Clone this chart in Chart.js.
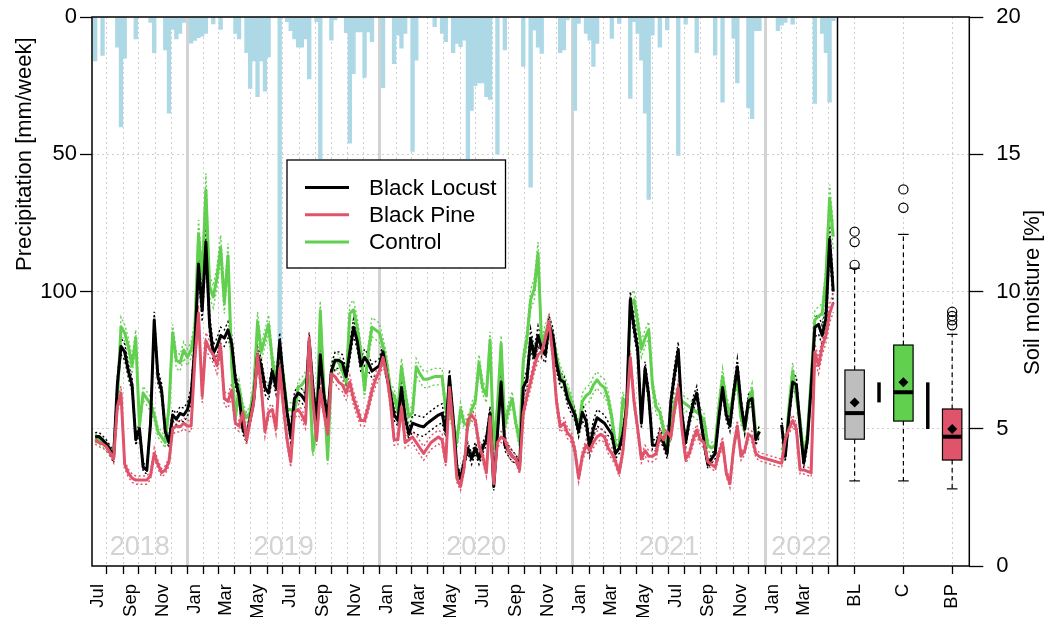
<!DOCTYPE html>
<html>
<head>
<meta charset="utf-8">
<title>Soil moisture and precipitation</title>
<script src="https://cdn.jsdelivr.net/npm/chart.js@4.4.1/dist/chart.umd.min.js"></script>
<style>
  html, body { margin: 0; padding: 0; background: #ffffff; }
  #wrap { width: 1046px; height: 617px; }
</style>
</head>
<body>
<div id="wrap"><canvas id="chart" width="1046" height="617"></canvas></div>
<script>
// ---------- data ----------
// weekly precipitation [mm/week], one value per week starting at firstWeek
const firstWeek = [2018, 7, 10];
const precip = [
  16,0,14,0,0,0,11,40,15,0,
  0,8,0,0,0,2,13,0,0,12,
  35,4.5,8,6,2,0,9.5,8.5,7.5,7,
  6,0,2.5,0,4.5,0,0,0,6,8,
  0,13,26,16,29,16,27,14.5,0,0,
  118,0,1.7,5,8,11,11,8,22.6,0,
  1.7,51.6,0,0,8.4,1.1,0,0,5.7,46,
  20.6,5.4,5.4,22,5.4,9,0,0,25.7,0,
  0,17,6.6,11.4,6,0,49,15.7,0,0,
  0,0,3.5,0,6,9,0,13,9.6,10.8,
  8.4,51.6,34,25,24,24,29,30,0,50,
  0,12,0,0,0,0,18,0,62,4.7,
  11,13.3,0,0,0,0,13,12,1.1,0,
  34,2.3,0,6,8.4,18,9.6,0,0,0,
  7.8,0,2.3,0,0,29.7,1.7,6,15.7,35,
  66.5,6.6,0,11,0,4.7,0,0,50.4,0,
  2.6,0,0,13,0,0,0,0,13.9,0,
  31,0,0,7.7,24,0,0,33,37,5,
  5,0,0,0,0,5,3,2,0,2.6,
  0,0,0,0,0,31.5,0,6,13,31,
  1.3
];

// weekly mean soil moisture [%]
const locust = [
  4.71,4.72,4.6,4.45,4.25,3.95,6.6,8.0,7.8,7.1,
  6.6,4.6,5.0,3.6,3.5,5.2,8.96,6.9,6.4,4.9,
  4.5,5.5,5.35,5.56,5.5,5.7,6.2,8.0,11.0,9.3,
  11.8,8.8,7.75,8.0,8.4,8.3,8.6,8.1,6.8,6.2,
  5.0,4.7,5.4,6.1,7.7,7.3,6.5,6.3,7.1,6.5,
  8.2,6.8,5.6,4.7,6.1,6.3,6.2,6.0,8.2,6.5,
  5.3,7.7,6.2,5.4,7.1,7.5,7.5,7.4,6.9,7.8,
  8.7,8.2,7.3,7.6,7.4,7.1,7.2,7.3,7.8,7.0,
  6.3,5.5,5.3,6.5,5.4,4.8,5.2,5.15,5.1,5.07,
  5.2,5.3,5.4,5.5,5.56,4.9,6.9,5.4,3.6,3.2,
  3.8,4.3,3.9,4.3,3.9,4.3,4.6,5.56,2.9,4.8,
  6.7,4.4,4.2,4.0,3.9,3.65,6.5,6.8,8.3,7.6,
  8.4,7.9,7.7,8.8,8.4,7.4,6.78,6.7,6.1,5.8,
  5.5,4.9,5.6,5.3,4.3,5.0,5.4,5.3,5.2,5.0,
  4.8,4.1,4.3,4.8,5.8,9.7,8.7,7.9,5.2,7.2,
  6.2,4.4,4.4,4.8,4.5,4.1,6.0,7.0,7.87,5.5,
  4.5,5.3,5.9,6.3,5.4,4.5,3.7,3.9,4.1,5.4,
  6.5,5.5,5.1,6.3,7.26,5.9,5.0,6.0,6.1,4.6,
  4.9,null,null,null,null,null,5.14,4.0,5.5,6.7,
  6.6,5.1,3.75,4.6,6.5,8.7,8.8,8.4,9.0,11.9,
  10.0
];
const pine = [
  4.59,4.5,4.45,4.35,4.15,3.9,5.8,6.3,3.7,3.38,
  3.2,3.13,3.13,3.13,3.13,3.3,4.1,3.7,3.4,3.5,
  3.8,5.0,5.1,5.07,5.2,5.1,5.1,7.5,9.2,6.2,
  8.2,7.9,7.7,7.3,8.0,6.1,6.0,6.4,5.2,5.1,
  5.6,4.6,5.3,6.0,7.7,6.5,4.9,5.6,5.7,5.0,
  7.2,5.8,4.6,3.8,5.6,5.7,5.5,5.2,8.3,6.0,
  4.6,6.4,5.6,4.8,7.0,6.9,6.7,6.6,6.3,6.7,
  6.1,5.7,5.3,5.3,5.8,6.4,6.8,7.1,7.6,7.0,
  6.0,4.6,4.6,5.8,4.5,4.6,4.7,4.5,4.3,4.1,
  4.3,4.5,4.6,4.7,4.6,3.8,6.5,5.0,3.2,2.9,
  3.6,5.3,5.5,5.3,4.4,4.0,3.4,5.44,3.0,4.5,
  4.7,4.6,4.2,4.0,3.9,3.5,5.56,6.2,6.7,7.3,
  7.7,7.8,8.3,8.9,7.7,6.0,5.07,5.2,4.84,4.7,
  4.2,3.2,4.0,4.4,4.2,4.5,4.71,4.8,4.7,4.3,
  4.1,3.8,3.4,4.2,5.7,7.6,6.0,5.0,3.9,4.2,
  4.0,4.0,4.1,4.8,4.6,4.9,4.7,5.7,6.5,5.0,
  3.9,4.1,4.6,4.95,4.6,4.5,3.8,3.7,3.6,4.1,
  4.5,3.4,3.0,4.3,5.1,4.0,4.2,4.8,4.7,4.1,
  3.98,null,null,null,null,null,3.74,4.6,5.0,5.3,
  5.0,3.5,3.5,3.45,3.4,7.8,7.3,8.0,8.4,9.2,
  9.6
];
const control = [
  4.66,4.6,4.5,4.35,4.2,4.1,6.0,8.72,8.49,8.0,
  7.3,8.3,5.1,6.3,6.1,5.9,5.5,4.9,4.7,4.5,
  5.8,8.5,7.5,7.4,7.87,7.6,7.87,8.6,12.1,10.5,
  13.7,10.2,9.8,10.5,11.6,9.6,11.3,7.3,5.4,6.5,
  5.7,5.4,5.6,6.5,8.9,7.8,8.3,8.8,7.5,6.8,
  7.0,6.9,5.7,5.7,5.6,6.5,6.6,6.8,6.9,4.2,
  5.0,9.3,6.4,3.9,7.0,7.5,7.4,7.1,6.7,9.2,
  9.33,8.7,7.8,6.4,7.8,8.7,8.6,8.5,8.0,7.4,
  6.4,6.2,5.6,7.26,6.3,5.44,5.6,7.26,7.0,6.8,
  6.8,6.85,6.9,6.9,6.9,5.7,5.6,5.2,4.5,5.7,
  5.2,5.1,5.7,6.0,7.4,6.5,6.2,8.23,4.3,5.8,
  8.1,5.1,5.7,6.1,5.2,4.5,7.5,8.3,9.7,10.1,
  11.4,8.0,8.5,8.8,8.2,7.6,7.0,6.7,6.4,6.0,
  5.5,5.0,6.0,6.2,6.3,6.6,6.78,6.6,6.5,6.1,
  5.4,4.4,4.4,6.1,5.5,9.5,9.7,8.9,7.9,8.3,
  8.6,6.6,5.8,5.6,5.0,4.2,5.0,6.0,6.3,6.0,
  5.9,5.8,5.7,5.6,5.5,5.3,4.4,4.3,4.4,5.8,
  6.9,6.0,5.5,6.3,6.8,5.4,5.0,5.9,6.4,4.8,
  4.9,null,null,null,null,null,4.3,4.1,5.8,7.1,
  6.2,5.3,4.0,4.8,6.8,8.96,9.1,9.2,10.5,13.4,
  12.0
];

// half-width of the confidence band around each weekly mean
const locustCI = [
  0.15,0.15,0.15,0.15,0.15,0.2,0.3,0.3,0.3,0.25,
  0.25,0.2,0.2,0.15,0.15,0.2,0.3,0.25,0.25,0.2,
  0.2,0.2,0.2,0.25,0.25,0.25,0.3,0.4,0.5,0.4,
  0.5,0.4,0.3,0.3,0.3,0.3,0.3,0.3,0.25,0.25,
  0.2,0.2,0.2,0.25,0.3,0.25,0.25,0.25,0.25,0.25,
  0.3,0.25,0.2,0.2,0.25,0.25,0.25,0.25,0.3,0.25,
  0.2,0.3,0.25,0.2,0.25,0.3,0.3,0.3,0.25,0.3,
  0.3,0.3,0.25,0.3,0.3,0.25,0.25,0.25,0.3,0.25,
  0.25,0.2,0.2,0.25,0.2,0.2,0.3,0.35,0.35,0.35,
  0.35,0.35,0.35,0.35,0.35,0.2,0.25,0.2,0.15,0.15,
  0.2,0.2,0.2,0.2,0.2,0.2,0.2,0.25,0.15,0.2,
  0.3,0.2,0.2,0.2,0.15,0.15,0.3,0.3,0.35,0.3,
  0.35,0.3,0.3,0.3,0.3,0.3,0.25,0.25,0.25,0.25,
  0.2,0.2,0.3,0.3,0.3,0.3,0.3,0.3,0.3,0.25,
  0.2,0.2,0.2,0.2,0.25,0.3,0.3,0.3,0.2,0.25,
  0.25,0.2,0.2,0.2,0.2,0.2,0.25,0.3,0.3,0.2,
  0.2,0.2,0.25,0.25,0.2,0.2,0.15,0.15,0.2,0.2,
  0.25,0.2,0.2,0.25,0.3,0.25,0.2,0.25,0.25,0.2,
  0.2,0.2,0.2,0.2,0.2,0.2,0.25,0.2,0.25,0.3,
  0.3,0.2,0.2,0.25,0.3,0.35,0.35,0.35,0.4,0.5,
  0.45
];
const pineCI = [
  0.15,0.15,0.15,0.15,0.15,0.15,0.2,0.25,0.15,0.15,
  0.15,0.15,0.15,0.15,0.15,0.15,0.2,0.15,0.15,0.15,
  0.15,0.2,0.2,0.2,0.2,0.2,0.2,0.25,0.3,0.25,
  0.3,0.3,0.3,0.3,0.3,0.25,0.25,0.25,0.2,0.2,
  0.2,0.2,0.2,0.2,0.25,0.25,0.2,0.2,0.2,0.2,
  0.25,0.2,0.2,0.2,0.2,0.2,0.2,0.2,0.25,0.2,
  0.2,0.25,0.2,0.2,0.25,0.25,0.25,0.25,0.25,0.25,
  0.25,0.25,0.2,0.2,0.2,0.25,0.25,0.25,0.3,0.25,
  0.25,0.2,0.2,0.2,0.2,0.2,0.2,0.25,0.25,0.25,
  0.25,0.25,0.25,0.25,0.25,0.2,0.2,0.2,0.15,0.15,
  0.2,0.2,0.2,0.2,0.2,0.2,0.15,0.2,0.15,0.2,
  0.2,0.2,0.2,0.2,0.15,0.15,0.2,0.25,0.25,0.25,
  0.25,0.25,0.25,0.3,0.25,0.25,0.2,0.2,0.2,0.2,
  0.2,0.15,0.2,0.2,0.2,0.2,0.2,0.2,0.2,0.2,
  0.2,0.15,0.15,0.2,0.2,0.25,0.2,0.2,0.15,0.2,
  0.2,0.2,0.2,0.2,0.2,0.2,0.2,0.2,0.25,0.2,
  0.15,0.15,0.2,0.2,0.2,0.2,0.15,0.15,0.15,0.15,
  0.2,0.15,0.15,0.2,0.2,0.15,0.15,0.2,0.2,0.15,
  0.15,0.15,0.15,0.15,0.15,0.15,0.15,0.2,0.2,0.2,
  0.2,0.15,0.15,0.15,0.15,0.3,0.3,0.3,0.3,0.35,
  0.35
];
const controlCI = [
  0.15,0.15,0.15,0.15,0.15,0.2,0.3,0.35,0.3,0.3,
  0.3,0.3,0.2,0.25,0.25,0.25,0.2,0.2,0.2,0.2,
  0.25,0.3,0.3,0.3,0.3,0.3,0.3,0.35,0.5,0.4,
  0.6,0.4,0.4,0.4,0.45,0.4,0.45,0.3,0.25,0.25,
  0.25,0.2,0.25,0.25,0.35,0.3,0.3,0.35,0.3,0.3,
  0.3,0.3,0.25,0.25,0.25,0.25,0.25,0.3,0.3,0.2,
  0.2,0.35,0.3,0.2,0.3,0.3,0.3,0.3,0.3,0.35,
  0.35,0.35,0.3,0.3,0.3,0.35,0.35,0.35,0.3,0.3,
  0.25,0.25,0.25,0.3,0.25,0.25,0.25,0.3,0.3,0.3,
  0.3,0.3,0.3,0.3,0.3,0.25,0.25,0.2,0.2,0.25,
  0.2,0.2,0.25,0.25,0.3,0.25,0.25,0.3,0.2,0.25,
  0.3,0.25,0.25,0.25,0.2,0.2,0.3,0.3,0.35,0.4,
  0.4,0.3,0.3,0.35,0.3,0.3,0.3,0.3,0.25,0.25,
  0.25,0.2,0.3,0.3,0.3,0.3,0.3,0.3,0.3,0.25,
  0.25,0.2,0.2,0.25,0.25,0.35,0.35,0.35,0.3,0.3,
  0.3,0.25,0.25,0.25,0.2,0.2,0.25,0.3,0.3,0.25,
  0.25,0.25,0.25,0.25,0.25,0.25,0.2,0.2,0.2,0.25,
  0.3,0.25,0.25,0.25,0.3,0.25,0.2,0.25,0.25,0.2,
  0.2,0.2,0.2,0.2,0.2,0.2,0.2,0.2,0.25,0.3,
  0.25,0.2,0.2,0.2,0.3,0.35,0.35,0.35,0.4,0.5,
  0.45
];

// summary statistics of soil moisture per stand [%]
const groupLabels = ['BL', 'C', 'BP'];
const boxLow      = [3.10, 3.10, 2.81];
const boxQ1       = [4.62, 5.28, 3.86];
const boxMedian   = [5.57, 6.33, 4.71];
const boxQ3       = [7.14, 8.05, 5.72];
const boxHigh     = [10.85, 12.08, 8.44];
const boxMean     = [5.96, 6.69, 4.99];
const boxOutliers = [[10.97, 11.8, 12.18], [13.05, 13.72], [8.77, 8.95, 9.11, 9.26]];

// tick labels
const monthLabels = ['Jul','Sep','Nov','Jan','Mar','May','Jul','Sep','Nov','Jan','Mar','May',
                     'Jul','Sep','Nov','Jan','Mar','May','Jul','Sep','Nov','Jan','Mar'];
const precipTicks = [0, 50, 100];
const moistureTicks = [0, 5, 10, 15, 20];
const yearLabels = [2018, 2019, 2020, 2021, 2022];
const seriesNames = ['Black Locust', 'Black Pine', 'Control'];

// ---------- helpers / layout ----------
const DAY = 864e5;
const dayOf = (y, m, d) => Date.UTC(y, m - 1, d) / DAY;

const X_MIN = dayOf(2018, 7, 4);
const X_SEP = dayOf(2022, 5, 18);       // end of the time panel
const PANEL_DAYS = 250;                 // width of the box-plot panel in axis units
const X_MAX = X_SEP + PANEL_DAYS;
const groupPos = [0.13, 0.5, 0.87].map(f => X_SEP + f * PANEL_DAYS);

const weeks = precip.map((_, i) => dayOf(firstWeek[0], firstWeek[1], firstWeek[2]) + 7 * i);

const COL_BL = '#000000', COL_BP = '#DF536B', COL_C = '#61D04F';
const GROUP_FILL = ['#BEBEBE', COL_C, COL_BP];
const GRID = '#CFCFCF';
const FONT = "'Liberation Sans', Arial, Helvetica, sans-serif";

// x ticks: month boundaries (marks + grid), mid-month labels, group positions
const xTicks = [];
{
  let y = 2018, m = 8;
  while (dayOf(y, m, 1) < X_SEP) {
    xTicks.push({ value: dayOf(y, m, 1), kind: m === 1 ? 'year' : 'month', text: '' });
    m++; if (m > 12) { m = 1; y++; }
  }
  monthLabels.forEach((lab, k) => {
    const mm = 6 + 2 * k;                  // months counted from Jan 2018 (0-based)
    xTicks.push({ value: dayOf(2018 + Math.floor(mm / 12), (mm % 12) + 1, 15), kind: 'label', text: lab });
  });
  groupLabels.forEach((lab, g) => xTicks.push({ value: groupPos[g], kind: 'group', text: lab }));
  xTicks.sort((a, b) => a.value - b.value);
}

const toPoints = (vals, band, sign) =>
  vals.map((v, i) => ({ x: weeks[i], y: v == null ? null : v + (band ? sign * band[i] : 0) }));

const mainLine = (label, vals, color, order, span) => ({
  type: 'line', label, data: toPoints(vals), yAxisID: 'yS', xAxisID: 'x',
  borderColor: color, borderWidth: 3, pointRadius: 0, tension: 0,
  spanGaps: span, order, borderJoinStyle: 'round'
});
const bandLine = (vals, band, sign, color, span) => ({
  type: 'line', label: '', data: toPoints(vals, band, sign), yAxisID: 'yS', xAxisID: 'x',
  borderColor: color, borderWidth: 1.4, borderDash: [2, 2.5], pointRadius: 0, tension: 0,
  spanGaps: span, order: 5
});

// ---------- plugins ----------
const backdrop = {
  id: 'backdrop',
  beforeDraw(chart) {
    const { ctx, chartArea: a, scales: { x } } = chart;
    ctx.save();
    ctx.fillStyle = '#ffffff';
    ctx.fillRect(0, 0, chart.width, chart.height);
    ctx.fillStyle = '#D3D3D3';
    ctx.font = '27px ' + FONT;
    ctx.textAlign = 'center';
    ctx.textBaseline = 'alphabetic';
    yearLabels.forEach(yr => {
      const s = Math.max(X_MIN, dayOf(yr, 1, 1));
      const e = Math.min(X_SEP, dayOf(yr + 1, 1, 1));
      ctx.fillText(String(yr), x.getPixelForValue((s + e) / 2), a.bottom - 11);
    });
    ctx.restore();
  }
};

const groupBoxes = {
  id: 'groupBoxes',
  afterDatasetsDraw(chart) {
    const { ctx, scales: { x, yS } } = chart;
    const py = v => yS.getPixelForValue(v);
    const seg = (x1, y1, x2, y2) => { ctx.beginPath(); ctx.moveTo(x1, y1); ctx.lineTo(x2, y2); ctx.stroke(); };
    const halfW = 9.7, capHalf = 5.3;
    ctx.save();
    ctx.strokeStyle = '#000';
    groupLabels.forEach((_, g) => {
      const cx = x.getPixelForValue(groupPos[g]);
      // whiskers
      ctx.lineWidth = 1.2;
      ctx.setLineDash([4.5, 3.5]);
      seg(cx, py(boxQ3[g]), cx, py(boxHigh[g]));
      seg(cx, py(boxQ1[g]), cx, py(boxLow[g]));
      ctx.setLineDash([]);
      seg(cx - capHalf, py(boxHigh[g]), cx + capHalf, py(boxHigh[g]));
      seg(cx - capHalf, py(boxLow[g]), cx + capHalf, py(boxLow[g]));
      // box
      const top = py(boxQ3[g]), bot = py(boxQ1[g]);
      ctx.fillStyle = GROUP_FILL[g];
      ctx.fillRect(cx - halfW, top, 2 * halfW, bot - top);
      ctx.lineWidth = 1.2;
      ctx.strokeRect(cx - halfW, top, 2 * halfW, bot - top);
      // median
      ctx.lineWidth = 4;
      seg(cx - halfW, py(boxMedian[g]), cx + halfW, py(boxMedian[g]));
      // outliers
      ctx.lineWidth = 1.2;
      boxOutliers[g].forEach(v => { ctx.beginPath(); ctx.arc(cx, py(v), 4.6, 0, Math.PI * 2); ctx.stroke(); });
      // mean
      const my = py(boxMean[g]);
      ctx.fillStyle = '#000';
      ctx.beginPath();
      ctx.moveTo(cx, my - 5); ctx.lineTo(cx + 5, my); ctx.lineTo(cx, my + 5); ctx.lineTo(cx - 5, my);
      ctx.closePath(); ctx.fill();
    });
    // difference between neighbouring group means
    ctx.lineWidth = 3.5;
    for (let g = 0; g < groupLabels.length - 1; g++) {
      const mx = x.getPixelForValue((groupPos[g] + groupPos[g + 1]) / 2);
      seg(mx, py(boxMean[g]), mx, py(boxMean[g + 1]));
    }
    // frame and panel separator
    const a = chart.chartArea;
    ctx.lineWidth = 1.5;
    ctx.strokeRect(a.left, a.top, a.right - a.left, a.bottom - a.top);
    const sx = x.getPixelForValue(X_SEP);
    seg(sx, a.top, sx, a.bottom);
    ctx.restore();
  }
};

const annotations = {
  id: 'annotations',
  afterDraw(chart) {
    const { ctx, chartArea: a, scales: { yP } } = chart;
    ctx.save();
    ctx.fillStyle = '#000';
    ctx.textAlign = 'center';
    ctx.textBaseline = 'middle';
    ctx.font = '22px ' + FONT;
    // axis titles
    ctx.save();
    ctx.translate(25, (yP.getPixelForValue(0) + yP.getPixelForValue(100)) / 2);
    ctx.rotate(-Math.PI / 2);
    ctx.fillText('Precipitation [mm/week]', 0, 0);
    ctx.restore();
    ctx.save();
    ctx.translate(a.right + 64, (a.top + a.bottom) / 2 + 1);
    ctx.rotate(-Math.PI / 2);
    ctx.fillText('Soil moisture [%]', 0, 0);
    ctx.restore();
    // legend
    const lx = a.left + 195, ly = a.top + 143, lw = 218.5, lh = 108;
    ctx.fillStyle = '#fff';
    ctx.fillRect(lx, ly, lw, lh);
    ctx.strokeStyle = '#000';
    ctx.lineWidth = 1.3;
    ctx.strokeRect(lx, ly, lw, lh);
    const cols = [COL_BL, COL_BP, COL_C];
    ctx.textAlign = 'left';
    ctx.font = '22.5px ' + FONT;
    seriesNames.forEach((name, k) => {
      const ry = ly + 27.5 + k * 27.2;
      ctx.strokeStyle = cols[k];
      ctx.lineWidth = 3;
      ctx.beginPath(); ctx.moveTo(lx + 18, ry); ctx.lineTo(lx + 62, ry); ctx.stroke();
      ctx.fillStyle = '#000';
      ctx.fillText(name, lx + 82, ry + 1);
    });
    ctx.restore();
  }
};

// ---------- chart ----------
Chart.defaults.font.family = FONT;
Chart.defaults.color = '#000';

const transparent = 'rgba(0,0,0,0)';
const noEdgePadding = s => { s.paddingTop = 0; s.paddingBottom = 0; s.paddingLeft = 0; s.paddingRight = 0; };

new Chart(document.getElementById('chart'), {
  type: 'line',
  data: {
    datasets: [
      mainLine(seriesNames[1], pine, COL_BP, 1, true),
      mainLine(seriesNames[0], locust, COL_BL, 2, false),
      mainLine(seriesNames[2], control, COL_C, 3, false),
      bandLine(pine, pineCI, 1, COL_BP, true),
      bandLine(pine, pineCI, -1, COL_BP, true),
      bandLine(locust, locustCI, 1, COL_BL, false),
      bandLine(locust, locustCI, -1, COL_BL, false),
      bandLine(control, controlCI, 1, COL_C, false),
      bandLine(control, controlCI, -1, COL_C, false),
      {
        type: 'bar', label: 'Precipitation',
        data: precip.map((v, i) => ({ x: weeks[i], y: v })),
        xAxisID: 'x', yAxisID: 'yP',
        backgroundColor: '#ADD8E6', borderWidth: 0,
        barPercentage: 1, categoryPercentage: 1, order: 10
      }
    ]
  },
  options: {
    responsive: false,
    animation: false,
    devicePixelRatio: 1,
    layout: { padding: { top: 17, left: 0, right: 0, bottom: 0 } },
    plugins: { legend: { display: false }, tooltip: { enabled: false }, title: { display: false } },
    scales: {
      x: {
        type: 'linear', position: 'bottom', min: X_MIN, max: X_MAX, offset: false,
        afterBuildTicks(s) { s.ticks = xTicks.map(t => ({ value: t.value, kind: t.kind, text: t.text })); },
        afterFit(s) { s.height = 51; noEdgePadding(s); },
        ticks: {
          autoSkip: false, minRotation: 90, maxRotation: 90, padding: 10,
          font: { size: 18.5 }, color: '#000',
          callback: (v, i, ticks) => ticks[i].text
        },
        grid: {
          offset: false, drawOnChartArea: true, drawTicks: true, tickLength: 8, tickWidth: 1.3,
          color: c => (!c.tick || c.tick.kind === 'label') ? transparent : (c.tick.kind === 'year' ? '#D3D3D3' : GRID),
          lineWidth: c => (c.tick && c.tick.kind === 'year') ? 3 : 1,
          tickColor: c => (c.tick && c.tick.kind === 'label') ? transparent : '#000'
        },
        border: { display: false, dash: c => (c.tick && c.tick.kind === 'year') ? [] : [2, 3] }
      },
      yP: {
        type: 'linear', position: 'left', reverse: true, min: 0, max: 200,
        afterBuildTicks(s) { s.ticks = precipTicks.map(v => ({ value: v })); },
        afterFit(s) { s.width = 92; noEdgePadding(s); },
        ticks: { font: { size: 22 }, color: '#000', padding: 3 },
        grid: { drawOnChartArea: false, drawTicks: true, tickLength: 12, tickWidth: 1.3, tickColor: '#000' },
        border: { display: false }
      },
      yS: {
        type: 'linear', position: 'right', min: 0, max: 20,
        afterBuildTicks(s) { s.ticks = moistureTicks.map(v => ({ value: v })); },
        afterFit(s) { s.width = 76.7; noEdgePadding(s); },
        ticks: { font: { size: 22 }, color: '#000', padding: 13 },
        grid: {
          drawOnChartArea: true, drawTicks: true, tickLength: 14, tickWidth: 1.3, tickColor: '#000',
          color: c => (c.tick && (c.tick.value === 0 || c.tick.value === 20)) ? transparent : GRID,
          lineWidth: 1
        },
        border: { display: false, dash: [2, 3] }
      }
    }
  },
  plugins: [backdrop, groupBoxes, annotations]
});
</script>
</body>
</html>
